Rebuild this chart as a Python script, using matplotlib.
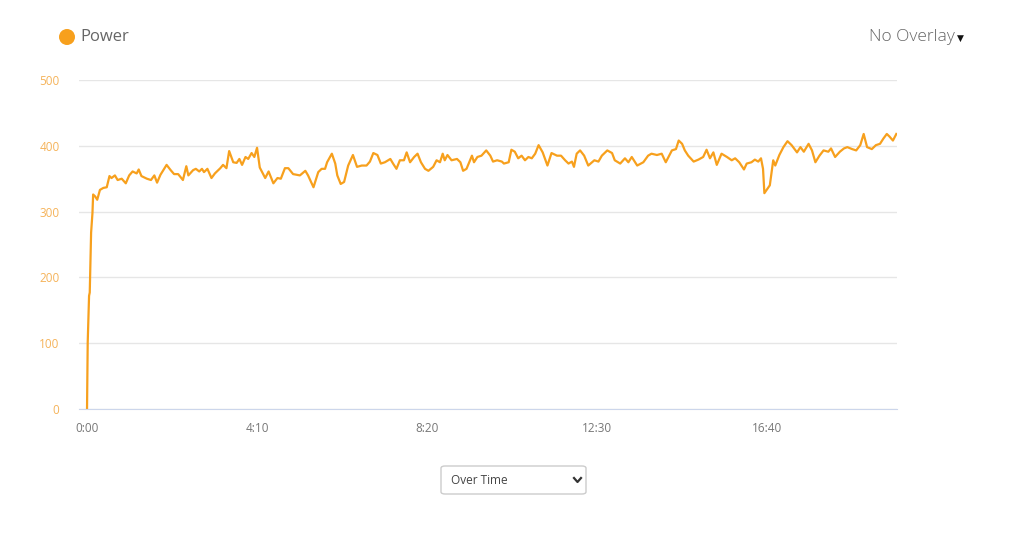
import matplotlib
matplotlib.use('Agg')
import matplotlib.pyplot as plt
from matplotlib.patches import FancyBboxPatch, Ellipse
from matplotlib.lines import Line2D
from matplotlib.ticker import FuncFormatter

# power trace, seconds / watts
secs = [0, 1, 3, 4, 6, 8, 9, 12, 15, 19, 24, 29, 33, 36, 41, 45, 51, 57, 62, 67,
        73, 76, 80, 88, 94, 99, 103, 108, 117, 123, 128, 134, 141, 146, 149, 156,
        160, 165, 169, 172, 177, 183, 188, 196, 200, 205, 209, 215, 220, 224, 228,
        233, 237, 242, 246, 250, 254, 262, 267, 274, 280, 285, 291, 296, 303, 313,
        321, 325, 333, 340, 345, 350, 353, 360, 365, 368, 373, 378, 384, 391, 397,
        404, 411, 416, 421, 427, 432, 438, 446, 450, 455, 460, 466, 470, 475, 481,
        486, 491, 497, 502, 509, 514, 519, 523, 526, 530, 536, 544, 549, 553, 558,
        566, 569, 574, 580, 587, 593, 597, 603, 610, 613, 620, 624, 629, 634, 639,
        644, 649, 654, 659, 664, 670, 677, 683, 691, 697, 703, 708, 713, 716, 720,
        725, 731, 737, 746, 752, 757, 765, 772, 776, 784, 791, 796, 801, 809, 818,
        825, 830, 838, 845, 851, 860, 866, 870, 875, 879, 884, 892, 899, 906, 911,
        916, 921, 926, 933, 941, 948, 953, 959, 966, 970, 977, 982, 987, 991, 994,
        996, 1000, 1004, 1009, 1012, 1018, 1024, 1030, 1036, 1044, 1049, 1054, 1061,
        1066, 1071, 1077, 1083, 1090, 1094, 1100, 1107, 1113, 1118, 1125, 1131, 1137,
        1142, 1147, 1154, 1160, 1166, 1171, 1176, 1180, 1185, 1190]
watts = [0, 101, 172, 177, 268, 298, 326, 323, 318, 333, 336, 337, 354, 351, 355, 348,
         350, 343, 355, 361, 358, 364, 354, 350, 348, 355, 344, 356, 371, 363, 357,
         357, 348, 369, 355, 363, 365, 361, 365, 360, 365, 351, 358, 366, 371, 366,
         392, 375, 374, 380, 371, 383, 380, 389, 383, 397, 367, 351, 361, 343, 351,
         350, 366, 366, 357, 355, 362, 355, 337, 360, 365, 365, 375, 388, 373, 355,
         342, 345, 370, 386, 368, 370, 370, 376, 389, 386, 373, 375, 380, 373, 365,
         378, 378, 390, 375, 383, 388, 375, 365, 362, 368, 378, 375, 388, 378, 386,
         378, 380, 375, 362, 365, 385, 375, 383, 385, 393, 385, 376, 378, 376, 373,
         375, 394, 391, 381, 385, 378, 383, 381, 388, 401, 390, 370, 389, 385, 385,
         378, 373, 376, 368, 388, 393, 385, 370, 378, 376, 385, 393, 389, 378, 373,
         381, 375, 383, 370, 375, 385, 388, 386, 388, 375, 393, 395, 408, 403, 393,
         385, 376, 379, 383, 394, 381, 390, 371, 388, 383, 378, 381, 375, 364, 373,
         375, 379, 376, 381, 365, 328, 334, 340, 378, 370, 386, 398, 407, 401, 390,
         398, 391, 403, 393, 375, 385, 393, 391, 396, 383, 391, 396, 398, 395, 393,
         401, 418, 398, 395, 401, 403, 411, 418, 414, 408, 418]

x_ticks = [0, 250, 500, 750, 1000]
y_ticks = [0, 100, 200, 300, 400, 500]

orange = '#f7a01d'
plt.rcParams['font.family'] = ['Open Sans', 'DejaVu Sans']

fig = plt.figure(figsize=(10.24, 5.42), dpi=100)
ax = fig.add_axes([79 / 1024, 1 - 409 / 542, 818 / 1024, 329 / 542])
ax.plot(secs, watts, color=orange, lw=1.6, solid_joinstyle='round')

ax.set_xlim(-11.8, 1191)
ax.set_ylim(0, 500)
ax.set_xticks(x_ticks)
ax.set_yticks(y_ticks)
ax.xaxis.set_major_formatter(FuncFormatter(lambda v, p: '%d:%02d' % (v // 60, v % 60)))
ax.grid(axis='y', color='#e6e6e6', lw=1)
ax.set_axisbelow(True)
for s in ['top', 'right', 'left']:
    ax.spines[s].set_visible(False)
ax.spines['bottom'].set_color('#ccd6eb')
ax.tick_params(axis='x', length=0, pad=9, labelsize=8.5, labelcolor='#777777')
ax.tick_params(axis='y', length=0, pad=14, labelsize=8.5, labelcolor='#f5b35a')

# legend
fig.patches.append(Ellipse((67 / 1024, 1 - 37 / 542), 16 / 1024, 16 / 542,
                           transform=fig.transFigure, color=orange, ec='none'))
fig.text(80 / 1024, 1 - 37 / 542, 'Power', fontsize=12, color='#666666', va='center')
fig.text(955 / 1024, 1 - 37 / 542, 'No Overlay', fontsize=12.5, color='#666666',
         va='center', ha='right', fontweight='light')
fig.text(957 / 1024, 1 - 38 / 542, '\u25bc', fontsize=6.5, color='#111111',
         va='center', ha='left', family='DejaVu Sans')

# dropdown
box = FancyBboxPatch((441 / 1024, 1 - 494 / 542), 145 / 1024, 28 / 542,
                     boxstyle='round,pad=0,rounding_size=0.004', transform=fig.transFigure,
                     fc='white', ec='#cccccc', lw=1)
fig.patches.append(box)
fig.text(451 / 1024, 1 - 480 / 542, 'Over Time', fontsize=8.5, color='#444444', va='center')
fig.lines.append(Line2D([574 / 1024, 577.5 / 1024, 581 / 1024],
                        [1 - 478 / 542, 1 - 482 / 542, 1 - 478 / 542],
                        transform=fig.transFigure, color='#333333', lw=1.6))

fig.savefig('out.png', dpi=100)
